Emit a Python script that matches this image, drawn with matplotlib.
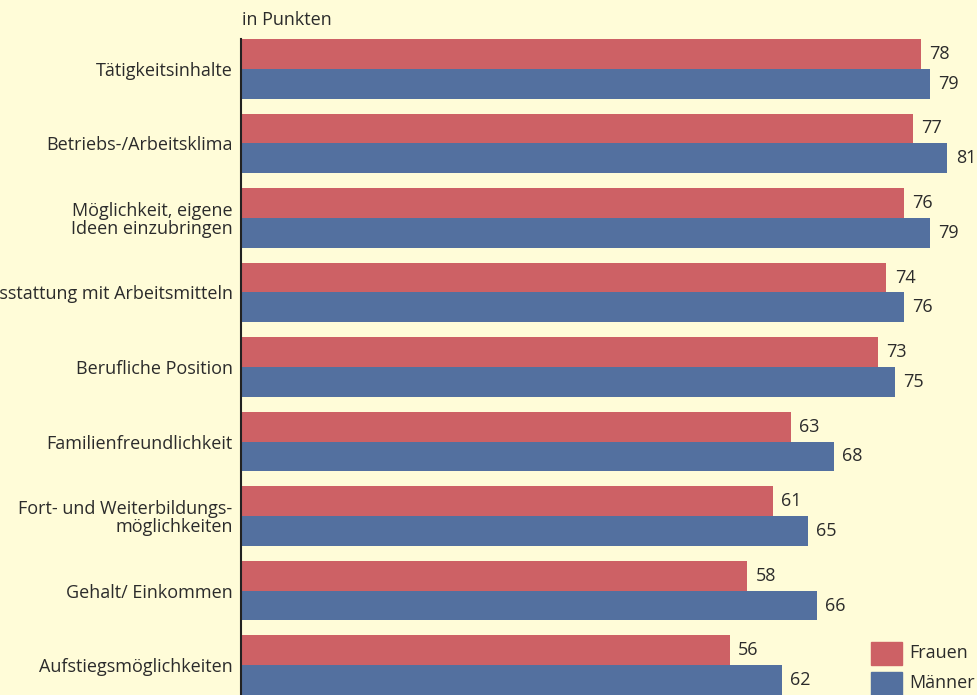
import numpy as np
import matplotlib.pyplot as plt
from matplotlib.patches import Rectangle

# data
categories = ["Tätigkeitsinhalte", "Betriebs-/Arbeitsklima",
              "Möglichkeit, eigene\nIdeen einzubringen",
              "Ausstattung mit Arbeitsmitteln", "Berufliche Position",
              "Familienfreundlichkeit",
              "Fort- und Weiterbildungs-\nmöglichkeiten",
              "Gehalt/ Einkommen", "Aufstiegsmöglichkeiten"]
frauen = [78, 77, 76, 74, 73, 63, 61, 58, 56]
maenner = [79, 81, 79, 76, 75, 68, 65, 66, 62]

BG = "#fffcd8"
RED = "#cd6165"
BLUE = "#53709f"
TXT = "#2b2b2b"
FS = 13
plt.rcParams['font.family'] = ['Open Sans', 'DejaVu Sans']

fig = plt.figure(figsize=(9.77, 6.95), dpi=100, facecolor=BG)
ax = fig.add_axes([241 / 977, 0, 1 - 241 / 977, (695 - 39) / 695])
ax.set_facecolor(BG)

y = np.arange(len(categories))
h = 0.4
ax.barh(y - h / 2, frauen, height=h, color=RED)
ax.barh(y + h / 2, maenner, height=h, color=BLUE)

for yi, v in zip(y, frauen):
    ax.text(v + 0.95, yi - h / 2, str(v), va='center', ha='left', fontsize=FS, color=TXT)
for yi, v in zip(y, maenner):
    ax.text(v + 0.95, yi + h / 2, str(v), va='center', ha='left', fontsize=FS, color=TXT)

ax.set_xlim(-0.1, 84.4)
ax.set_ylim(len(categories) - 1 + h, -h)
ax.set_yticks(y)
ax.set_yticklabels(categories, fontsize=FS, color=TXT, linespacing=1.0)
ax.tick_params(axis='y', length=0, pad=6)
ax.set_xticks([])
for s in ['top', 'right', 'bottom']:
    ax.spines[s].set_visible(False)
ax.spines['left'].set_color('#222222')
ax.spines['left'].set_linewidth(1.5)

fig.text(242 / 977, 1 - 20 / 695, "in Punkten", fontsize=FS, color=TXT, va='center', ha='left')

# legend
for i, (lab, col) in enumerate([("Frauen", RED), ("Männer", BLUE)]):
    top = 642 + i * 30
    fig.patches.append(Rectangle((871 / 977, 1 - (top + 23) / 695), 31 / 977, 23 / 695,
                                 transform=fig.transFigure, color=col))
    fig.text(909 / 977, 1 - (top + 11.5) / 695, lab, fontsize=FS, color=TXT,
             va='center', ha='left')

fig.savefig("out.png", dpi=100, facecolor=BG)
